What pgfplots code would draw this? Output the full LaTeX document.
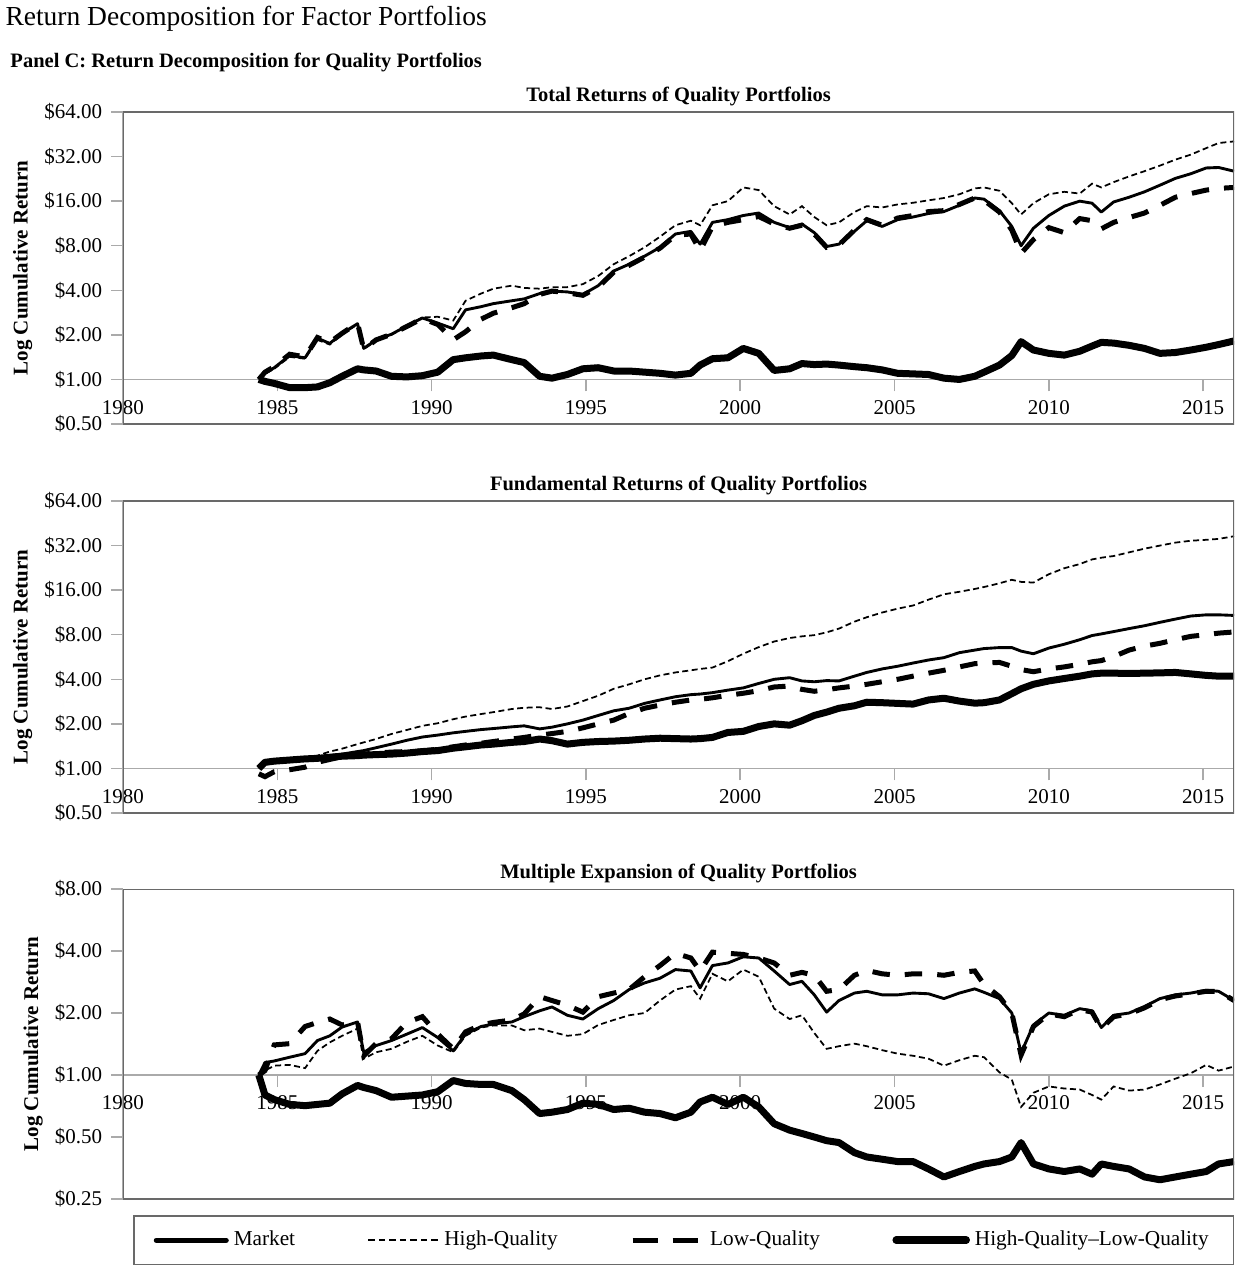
\documentclass[border=0pt]{standalone}
\usepackage{fontspec}
\setmainfont{Liberation Serif}
\usepackage{pgfplots}
\pgfplotsset{compat=1.18}
\usepackage{pgfplotstable}

\definecolor{framegray}{RGB}{105,105,105}
\definecolor{linegray}{RGB}{170,170,170}

% total returns: market, high quality, low quality, HQ-LQ
\pgfplotstableread{
yr     mkt   hq    lq    hml
1984.4 1.00  1.00  1.00  1.00
1984.6 1.10  1.09  1.12  0.97
1984.9 1.20  1.18  1.22  0.94
1985.4 1.45  1.42  1.48  0.88
1985.9 1.40  1.38  1.42  0.88
1986.3 1.90  1.85  1.92  0.89
1986.7 1.75  1.72  1.78  0.95
1987.1 2.05  2.02  2.05  1.05
1987.6 2.38  2.35  2.40  1.18
1987.8 1.62  1.60  1.60  1.16
1988.2 1.85  1.82  1.85  1.14
1988.7 2.02  2.00  2.02  1.05
1989.2 2.30  2.30  2.28  1.04
1989.7 2.60  2.62  2.58  1.06
1990.2 2.40  2.65  2.35  1.12
1990.7 2.20  2.50  1.85  1.36
1991.1 2.95  3.40  2.10  1.40
1991.6 3.10  3.80  2.55  1.44
1992.0 3.25  4.10  2.80  1.46
1992.6 3.40  4.30  3.05  1.36
1993.0 3.50  4.15  3.25  1.30
1993.5 3.80  4.10  3.75  1.05
1993.9 3.95  4.20  3.95  1.02
1994.4 3.90  4.20  3.85  1.08
1994.9 3.75  4.40  3.70  1.18
1995.4 4.30  5.00  4.20  1.20
1995.9 5.40  6.00  5.30  1.14
1996.4 6.00  6.80  5.90  1.14
1996.9 6.80  7.80  6.70  1.12
1997.4 7.80  9.20  7.70  1.10
1997.9 9.60  11.0  9.40  1.07
1998.4 10.0  11.8  9.60  1.10
1998.7 8.20  11.0  7.40  1.25
1999.1 11.5  15.0  10.8  1.38
1999.6 12.0  16.0  11.5  1.40
2000.1 12.8  19.8  12.0  1.62
2000.6 13.3  19.0  12.6  1.50
2001.1 11.5  14.8  11.2  1.15
2001.6 10.6  13.0  10.5  1.18
2002.0 11.2  14.8  11.0  1.28
2002.4 9.80  12.5  9.60  1.26
2002.8 7.90  11.0  7.80  1.27
2003.2 8.20  11.5  8.10  1.25
2003.7 10.0  13.5  10.2  1.22
2004.1 11.8  14.8  12.0  1.20
2004.6 10.8  14.5  11.0  1.16
2005.1 12.0  15.2  12.3  1.10
2005.6 12.5  15.6  12.8  1.09
2006.1 13.2  16.2  13.6  1.08
2006.6 13.6  16.8  13.8  1.02
2007.1 15.0  17.8  15.2  1.00
2007.6 16.8  19.5  16.8  1.05
2007.9 16.5  19.8  16.2  1.12
2008.4 13.8  18.8  13.5  1.25
2008.8 10.8  15.5  10.2  1.45
2009.1 8.00  13.0  7.10  1.80
2009.5 10.5  15.5  8.80  1.58
2010.0 12.8  17.8  10.6  1.50
2010.5 14.8  18.5  9.80  1.46
2011.0 16.0  18.0  12.2  1.55
2011.4 15.5  21.0  11.8  1.68
2011.7 13.5  19.8  10.4  1.78
2012.1 15.8  21.5  11.5  1.76
2012.6 17.0  23.5  12.4  1.70
2013.1 18.5  25.5  13.3  1.62
2013.6 20.5  27.8  15.0  1.50
2014.1 22.8  30.5  17.0  1.52
2014.6 24.5  33.0  18.0  1.58
2015.1 26.8  36.5  19.0  1.65
2015.5 27.0  39.5  19.5  1.72
2016.0 25.5  40.5  19.8  1.82
}\total

% fundamental returns
\pgfplotstableread{
yr     mkt   hq    lq    hml
1984.4 1.00  1.00  0.92  1.00
1984.6 1.12  1.05  0.88  1.10
1984.9 1.14  1.10  0.95  1.12
1985.4 1.15  1.13  0.98  1.14
1985.9 1.16  1.18  1.02  1.16
1986.3 1.18  1.22  1.10  1.17
1986.7 1.22  1.30  1.15  1.19
1987.1 1.25  1.36  1.20  1.21
1987.6 1.30  1.46  1.24  1.22
1987.8 1.32  1.50  1.25  1.23
1988.2 1.38  1.58  1.27  1.24
1988.7 1.46  1.71  1.29  1.25
1989.2 1.55  1.82  1.30  1.27
1989.7 1.63  1.94  1.31  1.30
1990.2 1.68  2.02  1.35  1.32
1990.7 1.74  2.15  1.40  1.37
1991.1 1.78  2.24  1.44  1.40
1991.6 1.83  2.33  1.48  1.44
1992.0 1.86  2.40  1.52  1.46
1992.6 1.91  2.52  1.58  1.50
1993.0 1.94  2.57  1.62  1.52
1993.5 1.85  2.59  1.68  1.58
1993.9 1.90  2.52  1.72  1.54
1994.4 2.00  2.62  1.78  1.46
1994.9 2.12  2.85  1.88  1.50
1995.4 2.28  3.10  2.00  1.52
1995.9 2.45  3.45  2.12  1.53
1996.4 2.55  3.70  2.35  1.55
1996.9 2.75  4.00  2.55  1.58
1997.4 2.90  4.25  2.68  1.60
1997.9 3.05  4.45  2.80  1.59
1998.4 3.15  4.60  2.90  1.58
1998.7 3.18  4.70  2.93  1.59
1999.1 3.25  4.80  3.00  1.62
1999.6 3.38  5.30  3.12  1.75
2000.1 3.50  5.95  3.22  1.78
2000.6 3.75  6.60  3.35  1.92
2001.1 4.00  7.20  3.55  2.00
2001.6 4.10  7.60  3.60  1.96
2002.0 3.90  7.80  3.42  2.10
2002.4 3.85  7.95  3.32  2.28
2002.8 3.92  8.30  3.40  2.40
2003.2 3.90  8.80  3.50  2.55
2003.7 4.20  9.80  3.60  2.65
2004.1 4.45  10.5  3.70  2.80
2004.6 4.70  11.3  3.85  2.78
2005.1 4.90  12.0  4.00  2.75
2005.6 5.15  12.6  4.20  2.72
2006.1 5.40  13.8  4.40  2.90
2006.6 5.60  15.0  4.60  2.98
2007.1 6.05  15.6  4.85  2.85
2007.6 6.30  16.3  5.10  2.76
2007.9 6.45  16.8  5.15  2.78
2008.4 6.55  17.8  5.20  2.90
2008.8 6.55  18.8  4.90  3.20
2009.1 6.20  18.2  4.65  3.45
2009.5 5.95  18.0  4.50  3.70
2010.0 6.50  20.5  4.70  3.90
2010.5 6.90  22.5  4.85  4.05
2011.0 7.40  24.0  5.05  4.20
2011.4 7.90  25.8  5.25  4.35
2011.7 8.10  26.5  5.35  4.40
2012.1 8.40  27.2  5.70  4.40
2012.6 8.80  28.8  6.30  4.38
2013.1 9.20  30.5  6.70  4.40
2013.6 9.70  32.0  7.00  4.42
2014.1 10.2  33.5  7.40  4.45
2014.6 10.7  34.5  7.80  4.35
2015.1 10.9  35.0  8.00  4.25
2015.5 10.9  35.5  8.20  4.20
2016.0 10.8  37.0  8.35  4.20
}\fundamental

% multiple expansion
\pgfplotstableread{
yr     mkt   hq    lq    hml
1984.4 1.00  1.00  1.00  1.00
1984.6 1.15  1.05  1.05  0.80
1984.9 1.17  1.11  1.40  0.76
1985.4 1.22  1.12  1.42  0.72
1985.9 1.27  1.08  1.72  0.71
1986.3 1.47  1.31  1.80  0.72
1986.7 1.55  1.44  1.87  0.73
1987.1 1.71  1.55  1.75  0.81
1987.6 1.81  1.68  1.81  0.89
1987.8 1.29  1.20  1.24  0.87
1988.2 1.39  1.29  1.42  0.84
1988.7 1.47  1.34  1.50  0.78
1989.2 1.58  1.45  1.80  0.79
1989.7 1.70  1.55  1.92  0.80
1990.2 1.52  1.39  1.58  0.83
1990.7 1.31  1.29  1.34  0.94
1991.1 1.58  1.55  1.62  0.91
1991.6 1.72  1.70  1.75  0.90
1992.0 1.77  1.74  1.80  0.90
1992.6 1.81  1.74  1.85  0.84
1993.0 1.92  1.65  1.98  0.76
1993.5 2.05  1.68  2.40  0.65
1993.9 2.14  1.62  2.30  0.66
1994.4 1.95  1.55  2.18  0.68
1994.9 1.87  1.58  2.02  0.73
1995.4 2.10  1.75  2.40  0.72
1995.9 2.30  1.85  2.50  0.68
1996.4 2.60  1.95  2.60  0.69
1996.9 2.80  2.00  3.00  0.66
1997.4 2.95  2.30  3.40  0.65
1997.9 3.25  2.60  3.90  0.62
1998.4 3.20  2.70  3.70  0.66
1998.7 2.65  2.35  3.20  0.74
1999.1 3.40  3.10  3.95  0.78
1999.6 3.50  2.85  3.90  0.72
2000.1 3.75  3.25  3.85  0.78
2000.6 3.70  3.00  3.70  0.70
2001.1 3.20  2.10  3.50  0.58
2001.6 2.75  1.87  3.05  0.54
2002.0 2.85  1.95  3.15  0.52
2002.4 2.45  1.60  3.05  0.50
2002.8 2.02  1.34  2.55  0.48
2003.2 2.30  1.38  2.60  0.47
2003.7 2.50  1.42  3.05  0.42
2004.1 2.55  1.38  3.22  0.40
2004.6 2.45  1.32  3.10  0.39
2005.1 2.45  1.27  3.05  0.38
2005.6 2.50  1.24  3.10  0.38
2006.1 2.48  1.20  3.10  0.35
2006.6 2.35  1.11  3.05  0.32
2007.1 2.50  1.18  3.15  0.34
2007.6 2.62  1.24  3.20  0.36
2007.9 2.52  1.22  2.75  0.37
2008.4 2.35  1.03  2.40  0.38
2008.8 2.00  0.95  2.00  0.40
2009.1 1.28  0.70  1.25  0.47
2009.5 1.75  0.82  1.72  0.37
2010.0 2.00  0.88  1.98  0.35
2010.5 1.95  0.86  1.92  0.34
2011.0 2.10  0.85  2.08  0.35
2011.4 2.05  0.80  2.02  0.33
2011.7 1.70  0.76  1.68  0.37
2012.1 1.95  0.88  1.92  0.36
2012.6 2.00  0.84  1.98  0.35
2013.1 2.15  0.85  2.12  0.32
2013.6 2.35  0.90  2.32  0.31
2014.1 2.45  0.96  2.42  0.32
2014.6 2.50  1.02  2.48  0.33
2015.1 2.58  1.12  2.55  0.34
2015.5 2.55  1.05  2.55  0.37
2016.0 2.30  1.10  2.30  0.38
}\multiple

\tikzset{
  mktline/.style={black, line width=1.15pt, line join=round},
  hqline/.style={black, line width=0.7pt, dash pattern=on 2.4pt off 1.4pt},
  lqline/.style={black, line width=2.0pt, dash pattern=on 7pt off 6pt},
  hmlline/.style={black, line width=2.8pt, line join=round},
}

\begin{document}
\begin{tikzpicture}
\path[use as bounding box] (0,0) rectangle (496.8pt,-510pt);
\node[anchor=west, inner sep=0pt, font=\fontsize{11}{13}\selectfont]
  at (2pt,-7.4pt) {Return Decomposition for Factor Portfolios};
\node[anchor=west, inner sep=0pt, font=\bfseries\fontsize{8.2}{10}\selectfont]
  at (4pt,-25.2pt) {Panel C: Return Decomposition for Quality Portfolios};

\begin{axis}[at={(49.2pt,-44.8pt)}, anchor=north west,
  scale only axis, width=444.4pt, height=124.8pt,
  xmin=1980, xmax=2016, ymode=log, log basis y=2,
  ymin=0.5, ymax=64, ytick={0.5,1,2,4,8,16,32,64},
  yticklabels={\$0.50,\$1.00,\$2.00,\$4.00,\$8.00,\$16.00,\$32.00,\$64.00},
  xtick={1980,1985,1990,1995,2000,2005,2010,2015},
  xticklabels={1980,1985,1990,1995,2000,2005,2010,2015},
  axis x line*=middle, axis y line*=left, hide obscured x ticks=false,
  axis line style={linegray, line width=0.6pt},
  tick label style={font=\fontsize{8.4}{10}\selectfont},
  major tick length=4.8pt, tick align=outside,
  tick style={linegray, line width=0.6pt},
  title={Total Returns of Quality Portfolios},
  title style={font=\bfseries\fontsize{8.2}{10}\selectfont, yshift=-7.2pt},
  ylabel={Log Cumulative Return},
  ylabel style={font=\bfseries\fontsize{8.4}{10}\selectfont, yshift=-2pt}]
\addplot[mktline] table[x=yr, y=mkt] {\total};
\addplot[hqline] table[x=yr, y=hq] {\total};
\addplot[lqline] table[x=yr, y=lq] {\total};
\addplot[hmlline] table[x=yr, y=hml] {\total};
\draw[framegray, line width=0.6pt] (rel axis cs:0,0) rectangle (rel axis cs:1,1);
\end{axis}

\begin{axis}[at={(49.2pt,-200.4pt)}, anchor=north west,
  scale only axis, width=444.4pt, height=124.8pt,
  xmin=1980, xmax=2016, ymode=log, log basis y=2,
  ymin=0.5, ymax=64, ytick={0.5,1,2,4,8,16,32,64},
  yticklabels={\$0.50,\$1.00,\$2.00,\$4.00,\$8.00,\$16.00,\$32.00,\$64.00},
  xtick={1980,1985,1990,1995,2000,2005,2010,2015},
  xticklabels={1980,1985,1990,1995,2000,2005,2010,2015},
  axis x line*=middle, axis y line*=left, hide obscured x ticks=false,
  axis line style={linegray, line width=0.6pt},
  tick label style={font=\fontsize{8.4}{10}\selectfont},
  major tick length=4.8pt, tick align=outside,
  tick style={linegray, line width=0.6pt},
  title={Fundamental Returns of Quality Portfolios},
  title style={font=\bfseries\fontsize{8.2}{10}\selectfont, yshift=-7.2pt},
  ylabel={Log Cumulative Return},
  ylabel style={font=\bfseries\fontsize{8.4}{10}\selectfont, yshift=-2pt}]
\addplot[mktline] table[x=yr, y=mkt] {\fundamental};
\addplot[hqline] table[x=yr, y=hq] {\fundamental};
\addplot[lqline] table[x=yr, y=lq] {\fundamental};
\addplot[hmlline] table[x=yr, y=hml] {\fundamental};
\draw[framegray, line width=0.6pt] (rel axis cs:0,0) rectangle (rel axis cs:1,1);
\end{axis}

\begin{axis}[at={(49.2pt,-355.6pt)}, anchor=north west,
  scale only axis, width=444.4pt, height=124pt,
  xmin=1980, xmax=2016, ymode=log, log basis y=2,
  ymin=0.25, ymax=8, ytick={0.25,0.5,1,2,4,8},
  yticklabels={\$0.25,\$0.50,\$1.00,\$2.00,\$4.00,\$8.00},
  xtick={1980,1985,1990,1995,2000,2005,2010,2015},
  xticklabels={1980,1985,1990,1995,2000,2005,2010,2015},
  axis x line*=middle, axis y line*=left, hide obscured x ticks=false,
  axis line style={linegray, line width=0.6pt},
  tick label style={font=\fontsize{8.4}{10}\selectfont},
  major tick length=4.8pt, tick align=outside,
  tick style={linegray, line width=0.6pt},
  title={Multiple Expansion of Quality Portfolios},
  title style={font=\bfseries\fontsize{8.2}{10}\selectfont, yshift=-7.2pt},
  ylabel={Log Cumulative Return},
  ylabel style={font=\bfseries\fontsize{8.4}{10}\selectfont, yshift=-2pt},
  legend columns=4,
  legend image code/.code={\draw[#1] (0pt,0pt) -- (28pt,0pt);},
  legend style={at={(0.009,-0.052)}, anchor=north west,
    draw=framegray, line width=0.6pt, inner xsep=8pt, inner ysep=4pt,
    font=\fontsize{8.5}{10}\selectfont, cells={anchor=west},
    /tikz/every even column/.append style={column sep=27pt}}]
\addplot[mktline, forget plot] table[x=yr, y=mkt] {\multiple};
\addplot[hqline, forget plot] table[x=yr, y=hq] {\multiple};
\addplot[lqline, forget plot] table[x=yr, y=lq] {\multiple};
\addplot[hmlline, forget plot] table[x=yr, y=hml] {\multiple};
\addlegendimage{black, line width=2pt, line cap=round}
\addlegendentry{Market}
\addlegendimage{black, line width=0.7pt, dash pattern=on 2.6pt off 1.6pt}
\addlegendentry{High-Quality}
\addlegendimage{black, line width=2pt, dash pattern=on 10pt off 6pt}
\addlegendentry{Low-Quality}
\addlegendimage{black, line width=3pt, line cap=round}
\addlegendentry{High-Quality--Low-Quality}
\draw[framegray, line width=0.6pt] (rel axis cs:0,0) rectangle (rel axis cs:1,1);
\end{axis}
\end{tikzpicture}
\end{document}
